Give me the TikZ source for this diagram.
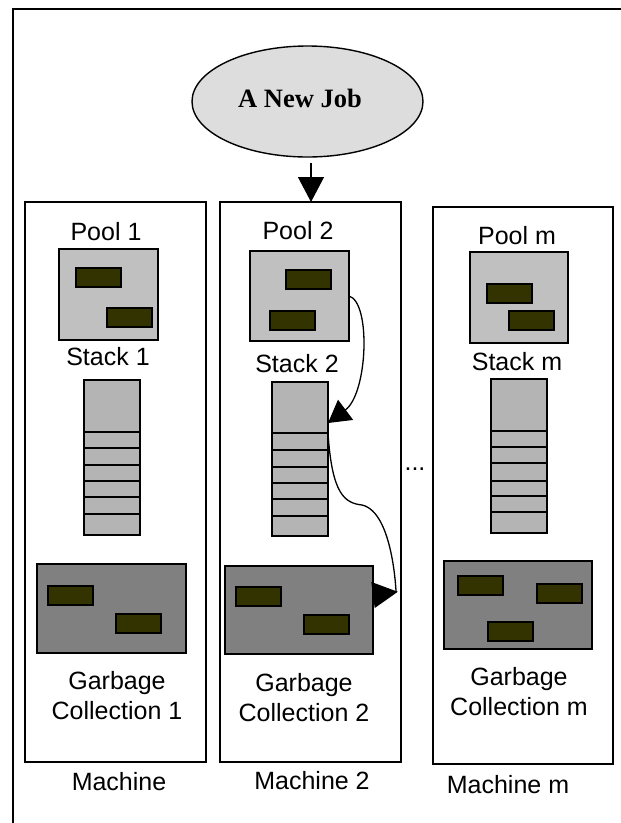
\documentclass[tikz,border=0pt]{standalone}
\usepackage{fontspec}
\setmainfont{Liberation Sans}
\newfontfamily\serifbold{Liberation Serif}
\usetikzlibrary{shapes.geometric,arrows.meta}
\definecolor{poolgray}{HTML}{C0C0C0}
\definecolor{stackgray}{HTML}{B4B4B4}
\definecolor{gcgray}{HTML}{808080}
\definecolor{blkcol}{HTML}{333300}
\definecolor{jobgray}{HTML}{DDDDDD}
\tikzset{
  box/.style={draw, line width=1.6pt, inner sep=0pt, outer sep=0pt, anchor=north west},
  machine/.style={box, fill=white},
  poolbox/.style={box, fill=poolgray, minimum width=99pt, minimum height=90pt},
  stackbox/.style={box, fill=stackgray, minimum width=56pt, minimum height=154pt},
  gcbox/.style={box, fill=gcgray, minimum width=148pt, minimum height=88pt},
  blk/.style={box, line width=1.4pt, fill=blkcol, minimum width=45pt, minimum height=19pt},
  cellline/.style={line width=1.4pt},
  lbl/.style={font=\fontsize{25}{29.5}\selectfont, inner sep=0pt, align=center},
  conn/.style={line width=1.3pt},
}
\begin{document}
\begin{tikzpicture}[x=1pt,y=-1pt]
\useasboundingbox (0,0) rectangle (621,823);
% outer frame (partly outside the picture)
\draw[line width=1.8pt] (13,823) |- (621,9);

% job ellipse
\node (job) [ellipse, draw, line width=1.4pt, fill=jobgray, minimum width=231pt, minimum height=111pt, inner sep=0pt, outer sep=0pt] at (307.5,101.5) {};
\node (jobtxt) [inner sep=0pt, font=\serifbold\bfseries\fontsize{26.5}{30}\selectfont] at (300,98) {A New Job};

% machines
\node (M1) [machine, minimum width=181pt, minimum height=560pt] at (25,202) {};
\node (M2) [machine, minimum width=181pt, minimum height=560pt] at (220,202) {};
\node (Mm) [machine, minimum width=180pt, minimum height=557pt] at (433,207) {};

% pools
\node (P1) [poolbox, minimum height=91pt] at (59,249) {};
\node (P2) [poolbox] at (250,251) {};
\node (Pm) [poolbox, minimum width=98pt, minimum height=91pt] at (470,252) {};
\node (p1a) [blk] at (76,268) {};
\node (p1b) [blk] at (107,308) {};
\node (p2a) [blk] at (286,270) {};
\node (p2b) [blk] at (270,311) {};
\node (pma) [blk] at (487,284) {};
\node (pmb) [blk] at (509,311) {};

% stacks
\node (S1) [stackbox, minimum height=155pt] at (84,380) {};
\foreach \yy in {432,448,465,481,497,514} \draw[cellline] (84,\yy) -- (140,\yy);
\node (S2) [stackbox] at (272,382) {};
\foreach \yy in {433,450,467,483,499,516} \draw[cellline] (272,\yy) -- (328,\yy);
\node (Sm) [stackbox] at (491,379) {};
\foreach \yy in {431,447,463,481,496,512} \draw[cellline] (491,\yy) -- (547,\yy);

% garbage collection boxes
\node (G1) [gcbox, minimum width=149pt, minimum height=89pt] at (37,564) {};
\node (G2) [gcbox] at (225,566) {};
\node (Gm) [gcbox] at (444,561) {};
\node (g1a) [blk] at (48,586) {};
\node (g1b) [blk] at (116,614) {};
\node (g2a) [blk] at (236,587) {};
\node (g2b) [blk] at (304,615) {};
\node (gma) [blk] at (458,576) {};
\node (gmb) [blk] at (537,584) {};
\node (gmc) [blk] at (488,622) {};

% labels
\node (lp1) [lbl] at (106,232) {Pool 1};
\node (lp2) [lbl] at (298,231) {Pool 2};
\node (lpm) [lbl] at (517,236) {Pool m};
\node (ls1) [lbl] at (108,357) {Stack 1};
\node (ls2) [lbl] at (297,364) {Stack 2};
\node (lsm) [lbl] at (517,362) {Stack m};
\node (lg1) [lbl] at (117,695.5) {Garbage\\Collection 1};
\node (lg2) [lbl] at (304,697.5) {Garbage\\Collection 2};
\node (lgm) [lbl] at (519,691.5) {Garbage\\Collection m};
\node (lm1) [lbl] at (119,782) {Machine};
\node (lm2) [lbl] at (312,781) {Machine 2};
\node (lmm) [lbl] at (508,785) {Machine m};
\node (dots) [lbl, anchor=base] at (415,470) {...};

% connectors
\draw[conn, -{Triangle[length=25pt,width=26pt]}]
  ([xshift=3.5pt,yshift=-6pt]job.south) -- ([xshift=3.5pt]job.south |- M2.north);
\draw[conn, -{Triangle[length=22pt,width=25pt]}]
  (P2.east) .. controls +(22,6) and +(40,-30) .. ([yshift=-41pt]S2.north east);
\draw[conn, -{Triangle[reversed,length=25pt,width=26pt]}]
  ([yshift=-51pt]S2.north east) .. controls (332,495) and (345,503) .. (362,505)
  .. controls (393,512) and (396,592) .. ([yshift=15pt]G2.east);
\end{tikzpicture}
\end{document}
